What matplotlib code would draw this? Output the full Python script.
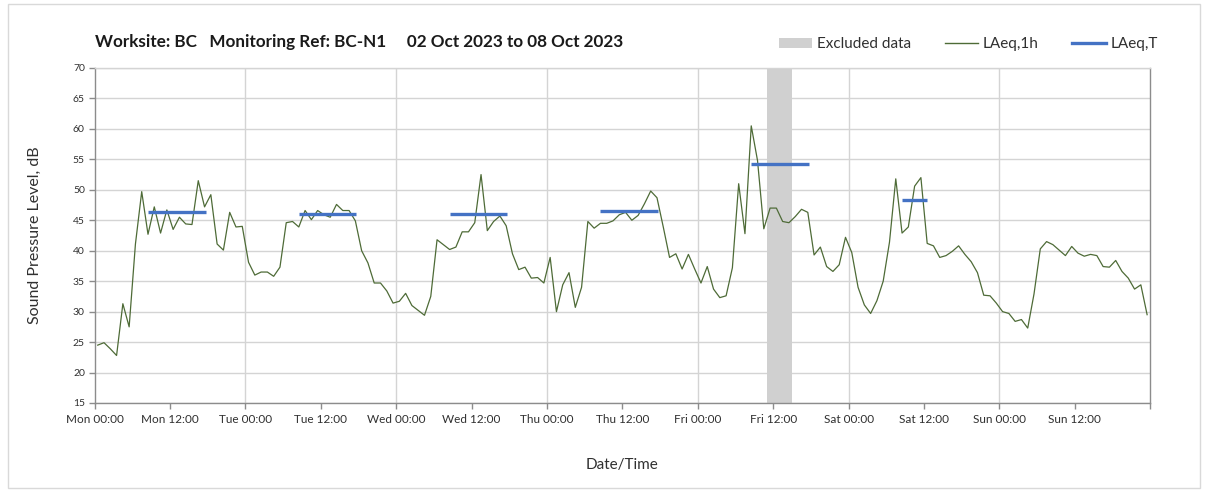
import numpy as np
import pandas as pd
import matplotlib
matplotlib.use('Agg')
import matplotlib.pyplot as plt
import matplotlib.dates as mdates
from matplotlib.patches import Patch, Rectangle
from matplotlib.lines import Line2D

# hourly LAeq,1h values (dB), Mon 02 Oct 2023 00:00 onwards, plotted mid-hour
laeq_1h = [
    24.5, 24.9, 23.9, 22.8, 31.3, 27.5, 41.1, 49.7, 42.7, 47.2, 42.9, 46.7,
    43.5, 45.5, 44.4, 44.3, 51.5, 47.2, 49.2, 41.1, 40.1, 46.3, 43.9, 44.0,
    38.1, 36.0, 36.5, 36.5, 35.8, 37.3, 44.6, 44.8, 43.9, 46.6, 45.1, 46.6,
    45.9, 45.5, 47.6, 46.6, 46.6, 44.9, 40.0, 38.0, 34.7, 34.7, 33.4, 31.4,
    31.7, 33.0, 31.0, 30.2, 29.4, 32.5, 41.8, 41.0, 40.2, 40.6, 43.1, 43.1,
    44.6, 52.5, 43.3, 44.8, 45.7, 44.1, 39.5, 36.9, 37.3, 35.5, 35.6, 34.7,
    38.9, 30.0, 34.4, 36.4, 30.7, 34.0, 44.8, 43.7, 44.5, 44.5, 44.9, 45.9,
    46.3, 45.0, 45.8, 47.7, 49.8, 48.7, 43.9, 38.9, 39.5, 37.0, 39.4, 37.0,
    34.7, 37.4, 33.7, 32.3, 32.6, 37.2, 51.0, 42.8, 60.5, 54.8, 43.6, 47.0,
    47.0, 44.8, 44.6, 45.6, 46.8, 46.3, 39.3, 40.6, 37.4, 36.6, 37.7, 42.2,
    39.7, 34.0, 31.1, 29.7, 31.8, 35.0, 41.4, 51.8, 42.9, 43.9, 50.6, 52.0,
    41.2, 40.8, 38.9, 39.2, 39.9, 40.8, 39.4, 38.2, 36.4, 32.7, 32.6, 31.4,
    30.0, 29.7, 28.4, 28.7, 27.3, 32.9, 40.3, 41.5, 41.0, 40.1, 39.2, 40.7,
    39.6, 39.1, 39.4, 39.2, 37.4, 37.3, 38.4, 36.6, 35.5, 33.7, 34.4, 29.5,
]
times = pd.date_range('2023-10-02 00:30', periods=len(laeq_1h), freq='h')

# LAeq,T daytime periods
period_start = ['2023-10-02 08:30', '2023-10-03 08:30', '2023-10-04 08:30',
                '2023-10-05 08:30', '2023-10-06 08:30', '2023-10-07 08:30']
period_end = ['2023-10-02 17:40', '2023-10-03 17:40', '2023-10-04 17:40',
              '2023-10-05 17:40', '2023-10-06 17:40', '2023-10-07 12:30']
laeq_t = [46.4, 46.0, 46.0, 46.6, 54.2, 48.3]

excluded = ('2023-10-06 11:00', '2023-10-06 15:00')

plt.rcParams['font.family'] = ['Lato', 'DejaVu Sans']

fig = plt.figure(figsize=(12.08, 4.92), dpi=100)
ax = fig.add_axes([0.0783, 0.1809, 0.8739, 0.6809])

grid_c = '#d4d4d4'
ax.axvspan(pd.Timestamp(excluded[0]), pd.Timestamp(excluded[1]),
           color='#d0d0d0', lw=0, zorder=1)
ax.plot(times, laeq_1h, color='#4e6b37', lw=0.9, zorder=3)
for s, e, v in zip(period_start, period_end, laeq_t):
    ax.plot([pd.Timestamp(s), pd.Timestamp(e)], [v, v], color='#4472c4',
            lw=2.4, solid_capstyle='butt', zorder=4)

t0 = pd.Timestamp('2023-10-02 00:00')
t1 = pd.Timestamp('2023-10-09 00:00')
ax.set_xlim(t0, t1)
ax.set_ylim(15, 70)
ax.set_yticks(range(15, 71, 5))
ax.xaxis.set_major_locator(mdates.HourLocator(byhour=[0, 12]))
ax.xaxis.set_major_formatter(
    plt.FuncFormatter(lambda x, p: '' if mdates.num2date(x).replace(tzinfo=None) >= t1
                      else mdates.num2date(x).strftime('%a %H:%M')))

ax.grid(axis='y', color=grid_c, lw=1)
for d in pd.date_range(t0, t1, freq='D')[1:-1]:
    ax.axvline(d, color=grid_c, lw=1, zorder=0)
ax.set_axisbelow(True)

for sp in ax.spines.values():
    sp.set_color('#8c8c8c')
    sp.set_linewidth(1)
ax.spines['top'].set_color(grid_c)
ax.tick_params(axis='both', colors='#8c8c8c', length=4, width=1,
               labelcolor='#303030')
ax.tick_params(axis='x', labelsize=8.5, pad=4)
ax.tick_params(axis='y', labelsize=7.5, pad=3)

ax.set_ylabel('Sound Pressure Level, dB', fontsize=11.5, color='#303030', labelpad=22)
ax.set_xlabel('Date/Time', fontsize=11, color='#303030', labelpad=24)

fig.text(0.0786, 0.915, 'Worksite: BC   Monitoring Ref: BC-N1     02 Oct 2023 to 08 Oct 2023',
         fontsize=12.3, fontweight='bold', color='#1a1a1a', va='center')

handles = [Patch(facecolor='#d0d0d0', edgecolor='none'),
           Line2D([], [], color='#4e6b37', lw=1),
           Line2D([], [], color='#4472c4', lw=2.4)]
fig.legend(handles, ['Excluded data', 'LAeq,1h', 'LAeq,T'], ncol=3,
           loc='center right', bbox_to_anchor=(0.97, 0.91), frameon=False,
           fontsize=11, handlelength=2.2, handletextpad=0.3, columnspacing=2.2,
           labelcolor='#303030')

fig.patches.append(Rectangle((0.0066, 0.008), 0.987, 0.984, transform=fig.transFigure,
                             fill=False, edgecolor='#d9d9d9', lw=1))

fig.savefig('out.png', dpi=100)
